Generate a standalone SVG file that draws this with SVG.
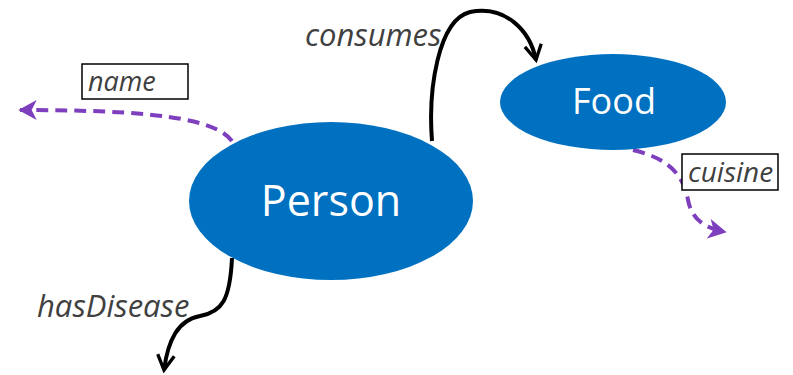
<svg xmlns="http://www.w3.org/2000/svg" width="793" height="375" viewBox="0 0 793 375">
<defs>
<marker id="blk" viewBox="0 0 12 12" refX="10" refY="6" markerWidth="5" markerHeight="5" orient="auto" markerUnits="strokeWidth">
<path d="M1,1 L10,6 L1,11" fill="none" stroke="#000" stroke-width="2"/>
</marker>
<marker id="pur" viewBox="0 0 12 12" refX="10" refY="6" markerWidth="5" markerHeight="5" orient="auto" markerUnits="strokeWidth">
<path d="M0,0 L11,6 L0,12 L3,6 Z" fill="#7E3FBF"/>
</marker>
<style>
.node{fill:#0070C0}
.nl{fill:#fff;font-family:"Open Sans","Noto Sans",sans-serif;text-anchor:middle}
.el{font-family:"Open Sans","Noto Sans",sans-serif;font-style:italic;fill:#404040}
.obj{fill:none;stroke:#000;stroke-width:4}
.dat{fill:none;stroke:#7E3FBF;stroke-width:4;stroke-dasharray:12,7}
.box{fill:#fff;stroke:#000;stroke-width:1.5}
</style>
</defs>
<rect width="793" height="375" fill="#fff"/>
<g id="connectors">
<path class="obj" d="M432,141 C428,90 438,20 470,12 C505,5 530,30 536,60" marker-end="url(#blk)"/>
<path class="obj" d="M232,258 C230,300 222,312 200,316 C178,320 168,340 164,370" marker-end="url(#blk)"/>
<path class="dat" d="M232,141 C215,118 150,110 20,110" marker-end="url(#pur)"/>
<path class="dat" d="M633,150 C675,160 684,180 688,200 C692,220 705,228 725,232" marker-end="url(#pur)"/>
</g>
<g id="node-person">
<ellipse class="node" cx="331" cy="201" rx="142" ry="79"/>
<text class="nl" x="331" y="216" font-size="43">Person</text>
</g>
<g id="node-food">
<ellipse class="node" cx="613" cy="102" rx="113" ry="48"/>
<text class="nl" x="614" y="114" font-size="36">Food</text>
</g>
<g id="label-name">
<rect class="box" x="82" y="64" width="106" height="35"/>
<text class="el" x="88" y="91" font-size="27">name</text>
</g>
<g id="label-cuisine">
<rect class="box" x="682" y="154" width="96" height="36"/>
<text class="el" x="688" y="182" font-size="28">cuisine</text>
</g>
<g id="label-consumes">
<text class="el" x="305" y="46" font-size="31">consumes</text>
</g>
<g id="label-hasdisease">
<text class="el" x="37" y="317" font-size="31">hasDisease</text>
</g>
</svg>
